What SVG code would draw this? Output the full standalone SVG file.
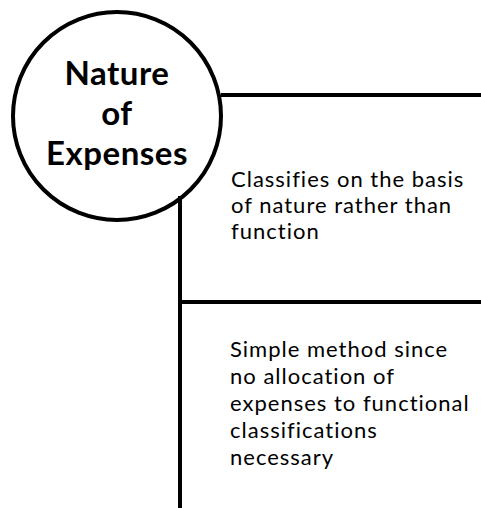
<svg xmlns="http://www.w3.org/2000/svg" width="481" height="508" viewBox="0 0 481 508">
  <style>
    .ln { stroke: #000; stroke-width: 4; fill: none; }
    .title { font-family: Lato, "Open Sans", "Liberation Sans", sans-serif; font-weight: bold; font-size: 33px; letter-spacing: 0.5px; fill: #000; text-anchor: middle; }
    .body { font-family: Lato, "Open Sans", "Liberation Sans", sans-serif; font-size: 22px; letter-spacing: 1px; fill: #000; }
  </style>
  <rect width="481" height="508" fill="#fff"/>
  <g id="connectors">
    <line class="ln" x1="221" y1="95" x2="481" y2="95"/>
    <line class="ln" x1="180" y1="196" x2="180" y2="508"/>
    <line class="ln" x1="180" y1="302" x2="481" y2="302"/>
  </g>
  <g id="nature-of-expenses">
    <circle class="ln" cx="117" cy="116" r="104" fill="#fff"/>
    <text class="title" x="117" y="85">Nature</text>
    <text class="title" x="117" y="125">of</text>
    <text class="title" x="117" y="165">Expenses</text>
  </g>
  <g id="classifies">
    <text class="body" x="231" y="187">Classifies on the basis</text>
    <text class="body" x="231" y="213">of nature rather than</text>
    <text class="body" x="231" y="239">function</text>
  </g>
  <g id="simple-method">
    <text class="body" x="230" y="357">Simple method since</text>
    <text class="body" x="230" y="384">no allocation of</text>
    <text class="body" x="230" y="411">expenses to functional</text>
    <text class="body" x="230" y="438">classifications</text>
    <text class="body" x="230" y="465">necessary</text>
  </g>
</svg>
